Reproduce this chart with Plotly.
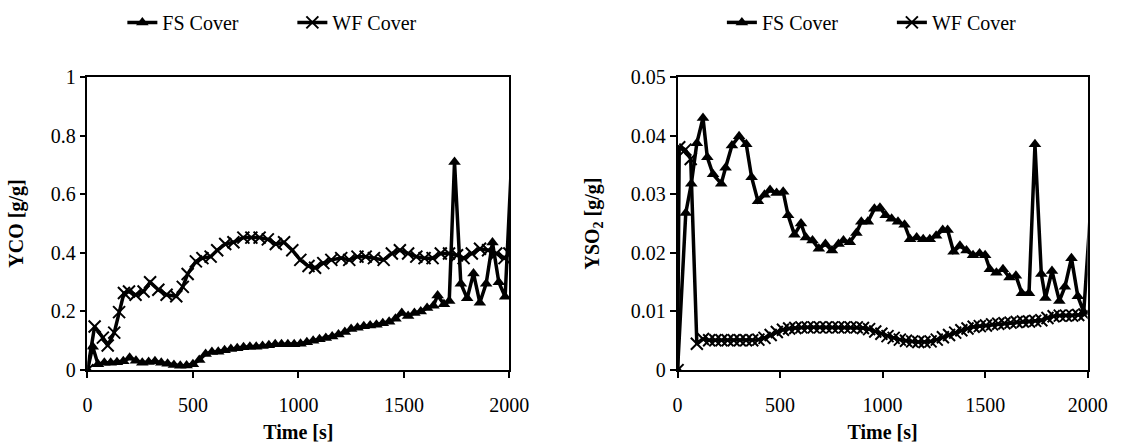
import plotly.graph_objects as go

# ---------------- data ----------------
fs_co_t = [0, 25, 50, 80, 110, 140, 170, 200, 230, 260, 290, 320, 350, 380, 410, 440, 470, 500, 530, 560,
           590, 620, 650, 680, 710, 740, 770, 800, 830, 860, 890, 920, 950, 980, 1010, 1040, 1070, 1100, 1130, 1160,
           1190, 1220, 1250, 1280, 1310, 1340, 1370, 1400, 1430, 1460, 1490, 1520, 1550, 1580, 1610, 1640, 1660, 1690,
           1715, 1740, 1770, 1800, 1830, 1860, 1890, 1920, 1950, 1980, 2040]
fs_co = [0, 0.08, 0.02, 0.025, 0.025, 0.027, 0.03, 0.042, 0.032, 0.025, 0.028, 0.03, 0.025, 0.022, 0.018, 0.015,
         0.016, 0.02, 0.035, 0.055, 0.062, 0.063, 0.068, 0.072, 0.075, 0.078, 0.08, 0.08, 0.082, 0.085, 0.088, 0.088,
         0.088, 0.088, 0.09, 0.095, 0.1, 0.105, 0.11, 0.115, 0.122, 0.13, 0.14, 0.145, 0.15, 0.152, 0.155, 0.16, 0.165,
         0.175, 0.195, 0.185, 0.195, 0.2, 0.212, 0.22, 0.255, 0.225, 0.236, 0.71, 0.295, 0.245, 0.33, 0.23, 0.295,
         0.435, 0.3, 0.25, 1.16]

wf_co_t = [0, 34, 73, 96, 127, 150, 173, 197, 228, 266, 297, 336, 375, 421, 452, 475, 514, 545, 584, 615,
           653, 692, 739, 777, 816, 855, 893, 932, 971, 1009, 1048, 1079, 1118, 1156, 1203, 1241, 1280, 1319, 1358,
           1404, 1443, 1481, 1520, 1559, 1598, 1636, 1675, 1714, 1752, 1783, 1822, 1861, 1899, 1938, 1977, 2000]
wf_co = [0, 0.149, 0.111, 0.084, 0.128, 0.198, 0.263, 0.268, 0.257, 0.268, 0.3, 0.274, 0.257, 0.252, 0.284, 0.328,
         0.371, 0.382, 0.387, 0.409, 0.43, 0.436, 0.452, 0.452, 0.452, 0.446, 0.43, 0.436, 0.409, 0.376, 0.355, 0.349,
         0.365, 0.376, 0.382, 0.376, 0.387, 0.387, 0.382, 0.376, 0.398, 0.409, 0.398, 0.387, 0.382, 0.382, 0.398,
         0.398, 0.392, 0.382, 0.398, 0.414, 0.409, 0.398, 0.382, 0.398]

fs_so2_t = [0, 40, 67, 94, 124, 145, 173, 213, 234, 265, 300, 335, 361, 392, 424, 451, 483, 515, 539, 570,
            602, 626, 658, 689, 721, 753, 785, 809, 840, 872, 896, 928, 960, 987, 1015, 1044, 1075, 1107, 1134, 1166,
            1198, 1230, 1261, 1293, 1317, 1346, 1377, 1409, 1441, 1473, 1500, 1523, 1555, 1587, 1619, 1650, 1679,
            1714, 1743, 1774, 1794, 1826, 1862, 1889, 1921, 1952, 1981, 2040]
fs_so2 = [0, 0.0268, 0.0318, 0.0387, 0.043, 0.0363, 0.0334, 0.0318, 0.0345, 0.0383, 0.0399, 0.0385, 0.0329, 0.0288,
          0.0299, 0.0307, 0.0302, 0.0304, 0.0264, 0.0231, 0.025, 0.0226, 0.0221, 0.0207, 0.0215, 0.0204, 0.0215,
          0.0221, 0.0218, 0.0234, 0.0253, 0.0253, 0.0275, 0.0277, 0.0264, 0.0258, 0.0253, 0.0248, 0.0223, 0.0226,
          0.0223, 0.0223, 0.0229, 0.0239, 0.0239, 0.0202, 0.0212, 0.0204, 0.0196, 0.0199, 0.0196, 0.0172, 0.0166,
          0.0172, 0.0158, 0.0161, 0.0131, 0.0131, 0.0385, 0.0164, 0.0123, 0.0169, 0.0118, 0.0142, 0.0191, 0.0126,
          0.0099, 0.041]

wf_so2_t = [0, 8, 38, 64, 94, 124, 154, 184, 214, 244, 274, 304, 334, 364, 394, 424, 454, 484, 514, 544, 574, 604,
            634, 664, 694, 724, 754, 784, 814, 844, 874, 904, 934, 964, 994, 1024, 1054, 1084, 1114, 1144, 1174, 1204,
            1234, 1264, 1294, 1324, 1354, 1384, 1414, 1444, 1474, 1504, 1534, 1564, 1594, 1624, 1654, 1684, 1714,
            1744, 1774, 1804, 1834, 1864, 1894, 1924, 1954, 1984]
wf_so2 = [0, 0.038, 0.0376, 0.036, 0.0045, 0.0053, 0.0051, 0.0051, 0.0051, 0.0051, 0.0051, 0.0051, 0.0051, 0.0051,
          0.0052, 0.0055, 0.006, 0.0065, 0.0069, 0.0071, 0.0072, 0.0073, 0.0073, 0.0073, 0.0073, 0.0073, 0.0073,
          0.0073, 0.0073, 0.0073, 0.0073, 0.0072, 0.007, 0.0066, 0.0062, 0.0058, 0.0055, 0.0052, 0.005, 0.0049,
          0.0048, 0.0048, 0.0049, 0.0052, 0.0056, 0.006, 0.0064, 0.0068, 0.0071, 0.0074, 0.0075, 0.0076, 0.0078,
          0.0079, 0.008, 0.0081, 0.0082, 0.0083, 0.0083, 0.0084, 0.0085, 0.0089, 0.0092, 0.0093, 0.0093, 0.0093,
          0.0094, 0.0095]

x_ticks = [0, 500, 1000, 1500, 2000]
co_ticks = [0, 0.2, 0.4, 0.6, 0.8, 1]
so2_ticks = [0, 0.01, 0.02, 0.03, 0.04, 0.05]
series_names = ["FS Cover", "WF Cover"]

# ---------------- figure ----------------
FONT = "Liberation Serif"
W, H = 1137, 448

fs_style = dict(mode="lines+markers", line=dict(color="black", width=3.5),
                marker=dict(symbol="triangle-up", size=11, color="black"))
wf_style = dict(mode="lines+markers", line=dict(color="black", width=3.5),
                marker=dict(symbol="x-thin", size=12, color="black",
                            line=dict(color="black", width=2)))

fig = go.Figure()
fig.add_trace(go.Scatter(x=fs_co_t, y=fs_co, name=series_names[0], xaxis="x", yaxis="y", legend="legend", **fs_style))
fig.add_trace(go.Scatter(x=wf_co_t, y=wf_co, name=series_names[1], xaxis="x", yaxis="y", legend="legend", **wf_style))
fig.add_trace(go.Scatter(x=fs_so2_t, y=fs_so2, name=series_names[0], xaxis="x2", yaxis="y2", legend="legend2", **fs_style))
fig.add_trace(go.Scatter(x=wf_so2_t, y=wf_so2, name=series_names[1], xaxis="x2", yaxis="y2", legend="legend2", **wf_style))

axis_common = dict(showline=True, linecolor="black", linewidth=1.5, mirror=True, showgrid=False, zeroline=False,
                   ticks="outside", ticklen=6, tickwidth=1.5, tickcolor="black",
                   tickfont=dict(family=FONT, size=20, color="black"))

ydom = [70.3 / H, 378.7 / H]
title_font = dict(family=FONT, size=20, color="black")

fig.update_layout(
    width=W, height=H, margin=dict(l=0, r=0, t=0, b=0),
    paper_bgcolor="white", plot_bgcolor="white",
    font=dict(family=FONT, size=20, color="black"),
    xaxis=dict(domain=[84.3 / W, 515.7 / W], range=[0, 2000], tickvals=x_ticks, anchor="y", ticklabelstandoff=10,
               title=dict(text="<b>Time [s]</b>", font=title_font, standoff=10), **axis_common),
    yaxis=dict(domain=ydom, range=[0, 1], tickvals=co_ticks, anchor="x",
               title=dict(text="<b>YCO [g/g]</b>", font=title_font, standoff=22), **axis_common),
    xaxis2=dict(domain=[687.7 / W, 1107 / W], range=[0, 2000], tickvals=x_ticks, anchor="y2", ticklabelstandoff=10,
                title=dict(text="<b>Time [s]</b>", font=title_font, standoff=10), **axis_common),
    yaxis2=dict(domain=ydom, range=[0, 0.05], tickvals=so2_ticks, anchor="x2",
                title=dict(text="<b>YSO<sub>2</sub> [g/g]</b>", font=title_font, standoff=26),
                **axis_common),
    legend=dict(orientation="h", x=120 / W, xanchor="left", y=1 - 12 / H, yanchor="middle",
                font=dict(family=FONT, size=20, color="black"), bgcolor="rgba(0,0,0,0)", entrywidth=125),
    legend2=dict(orientation="h", x=733 / W, xanchor="left", y=1 - 12 / H, yanchor="middle",
                 font=dict(family=FONT, size=20, color="black"), bgcolor="rgba(0,0,0,0)", entrywidth=125),
    showlegend=True,
)

fig.write_html("out.html")
